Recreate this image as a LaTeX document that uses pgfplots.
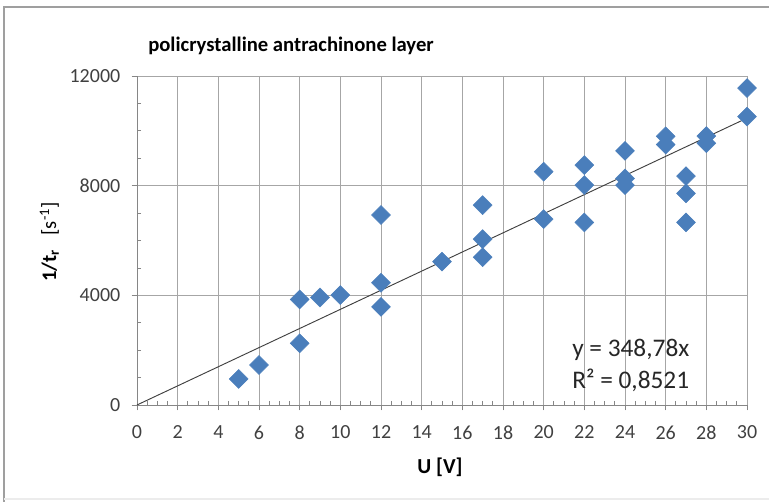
\documentclass[border=0pt]{standalone}
\usepackage{fontspec}
\setmainfont{Carlito}
\usepackage{pgfplots}
\pgfplotsset{compat=1.18}
\definecolor{mk}{HTML}{4A7EBB}
\definecolor{gridc}{HTML}{A6A6A6}
\definecolor{axc}{HTML}{868686}
\definecolor{lab}{HTML}{404040}
\begin{document}
\begin{tikzpicture}[x=1pt,y=1pt]
\path[use as bounding box] (0,0) rectangle (576.75,376.5);
\draw[gray!75, line width=0.8pt] (3,0) -- (3,371.25) -- (576.75,371.25);
\draw[gray!15, line width=0.8pt] (3,2.25) -- (576.75,2.25);
\begin{axis}[at={(102.75pt,72.75pt)}, anchor=south west,
  width=457.5pt, height=246.75pt, scale only axis,
  xmin=0, xmax=30, ymin=0, ymax=12000,
  xtick={0,2,...,30}, ytick={0,4000,8000,12000},
  minor x tick num=3, minor y tick num=3,
  axis lines*=left,
  grid=major, major grid style={gridc, line width=0.6pt},
  axis line style={axc, line width=0.6pt},
  tick style={axc, line width=0.6pt},
  tick align=outside, major tick length=4pt, minor tick length=-3pt,
  ticklabel style={font=\fontsize{15}{17}\selectfont, text=lab},
  xticklabel style={yshift=-8pt},
  yticklabel style={xshift=-5pt, /pgf/number format/set thousands separator={}},
  /pgf/number format/assume math mode=true,
  scaled y ticks=false,
  clip=false]
\addplot[black!75, line width=0.7pt] coordinates {(0,0) (30,10463.4)};
\addplot[only marks, mark=square*, mark size=5pt,
  mark options={rotate=45, fill=mk, draw=mk}] table {
x y
5 950
6 1460
8 3850
8 2250
9 3920
10 4010
12 6930
12 4460
12 3580
15 5230
17 7290
17 6050
17 5390
20 8510
20 6780
22 8750
22 8020
22 6660
24 9270
24 8260
24 8020
26 9800
26 9500
27 8350
27 7720
27 6660
28 9810
28 9550
30 11560
30 10520
};
\end{axis}
\node[anchor=west, inner sep=0pt, font=\bfseries\fontsize{15.5}{17}\selectfont] at (111,342) {policrystalline antrachinone layer};
\node[font=\bfseries\fontsize{16}{18}\selectfont] at (330,26.25) {U [V]};
\node[rotate=90, font=\fontsize{15.5}{17}\selectfont] at (37,195) {\textbf{1/t\textsubscript{r}}\ \ \ [s\textsuperscript{-1}]};
\node[anchor=west, inner sep=0pt, font=\fontsize{19}{21}\selectfont, text=black!85] at (429,114) {y = 348,78x};
\node[anchor=west, inner sep=0pt, font=\fontsize{19}{21}\selectfont, text=black!85] at (429,91.5) {R² = 0,8521};
\end{tikzpicture}
\end{document}
